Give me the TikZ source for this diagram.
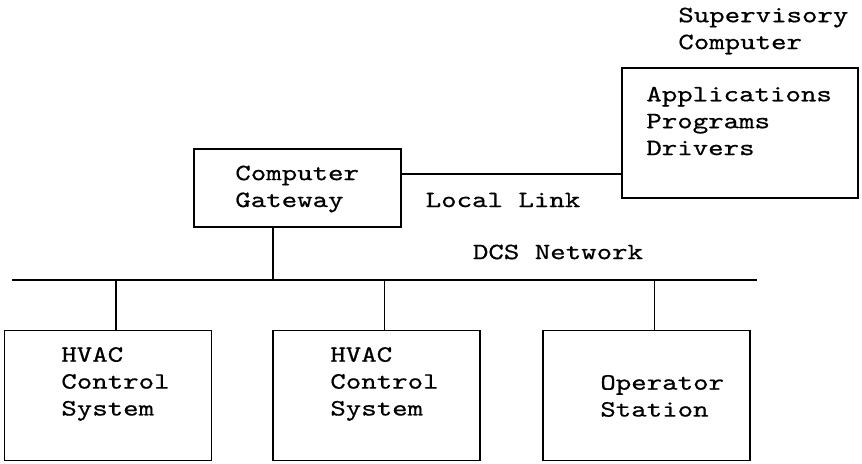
\documentclass[tikz,border=0pt]{standalone}
\usepackage{fontspec}
\setmonofont{lmmono10-regular.otf}[FakeStretch=1.26, FakeBold=0.6]
\tikzset{
  unit/.style={draw, line width=0.8pt, minimum width=4.14cm, minimum height=2.6cm, inner sep=0pt},
  lbl/.style={font=\ttfamily\fontsize{13.3}{15.3}\selectfont, align=left, anchor=west, inner sep=0pt},
  link/.style={line width=0.6pt},
}

\begin{document}
\begin{tikzpicture}
  \useasboundingbox (0,0) rectangle (17.24,9.28);
  % supervisory computer
  \node[lbl] (suptitle) at (13.56,8.66) {Supervisory\\Computer};
  \node[unit, line width=0.9pt, minimum width=4.72cm] (sup) at (14.80,6.62) {};
  \node[lbl] (suptxt) at (12.92,6.86) {Applications\\Programs\\Drivers};
  % gateway and local link
  \node[unit, line width=0.7pt, minimum height=1.56cm] (gw) at (5.95,5.52) {};
  \node[lbl] (gwtxt) at (4.70,5.50) {Computer\\Gateway};
  \draw[line width=1pt] (gw.east) ++(0,0.28) coordinate (ll) -- (ll -| sup.west);
  \node[lbl, anchor=center] (lltxt) at (10.06,5.28) {Local Link};
  % DCS network
  \coordinate (busL) at (0.24,3.68);
  \coordinate (busR) at (15.14,3.68);
  \draw[line width=1.2pt] (busL) -- (busR);
  \node[lbl, anchor=center] (dcs) at (11.16,4.24) {DCS Network};
  \draw[link] ([xshift=-0.49cm]gw.south) -- ([xshift=-0.49cm]gw.south |- busL);
  % units on the network
  \node[unit, line width=1.1pt] (hvacA) at (2.16,1.37) {};
  \node[lbl] (hvacAtxt) at (1.22,1.60) {HVAC\\Control\\System};
  \node[unit, line width=0.6pt] (hvacB) at (7.53,1.37) {};
  \node[lbl] (hvacBtxt) at (6.60,1.60) {HVAC\\Control\\System};
  \node[unit, line width=1.1pt] (opst) at (12.93,1.37) {};
  \node[lbl] (opsttxt) at (12.00,1.36) {Operator\\Station};
  \draw[link, line width=1pt] ([xshift=0.16cm]hvacA.north) -- ([xshift=0.16cm]hvacA.north |- busL);
  \draw[link] ([xshift=0.16cm]hvacB.north) -- ([xshift=0.16cm]hvacB.north |- busL);
  \draw[link] ([xshift=0.16cm]opst.north) -- ([xshift=0.16cm]opst.north |- busL);
\end{tikzpicture}
\end{document}
